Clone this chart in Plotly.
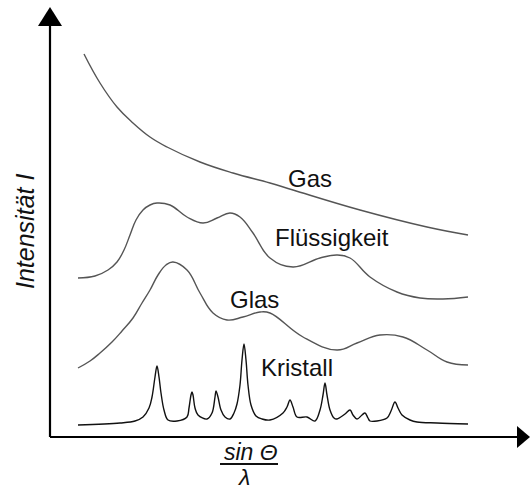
import plotly.graph_objects as go

# Scattering angle axis (sin Θ / λ, arbitrary units) and intensities (arbitrary units)
gas_x = [3.4, 5.0, 6.7, 8.3, 10.0, 11.7, 15.0, 18.3, 22.0, 24.3, 31.0, 37.7, 41.8]
gas_y = [38.3, 35.4, 33.0, 31.4, 30.0, 29.0, 27.5, 26.4, 25.4, 24.7, 22.7, 21.0, 20.2]

liquid_x = [2.8, 4.5, 5.8, 6.7, 7.4, 8.0, 8.6, 9.3, 10.0, 10.7, 12.0, 13.7, 15.3, 16.7,
            18.0, 19.0, 20.3, 22.0, 24.3, 27.0, 28.7, 30.0, 32.0, 34.7, 37.0, 39.3, 41.8]
liquid_y = [15.9, 16.1, 16.7, 17.5, 18.7, 20.2, 21.7, 22.7, 23.2, 23.4, 23.2, 22.0, 21.4, 21.9,
            22.4, 22.0, 20.4, 17.9, 17.0, 17.9, 18.2, 17.9, 16.0, 14.5, 13.9, 13.8, 14.0]

glass_x = [2.8, 4.0, 5.0, 6.2, 7.2, 8.3, 9.2, 10.0, 10.8, 11.6, 12.3, 13.7, 15.0, 16.3,
           17.7, 19.3, 21.0, 22.0, 25.3, 28.7, 30.7, 33.0, 35.3, 37.7, 39.7, 41.8]
glass_y = [6.9, 7.6, 8.4, 9.5, 10.6, 11.9, 13.4, 14.7, 16.2, 17.2, 17.5, 16.7, 14.4, 12.4,
           11.7, 12.0, 12.5, 12.4, 10.0, 8.7, 9.4, 10.2, 10.0, 8.7, 7.5, 7.2]

crystal_x = [2.8, 7.0, 8.5, 9.3, 9.9, 10.2, 10.5, 10.7, 10.9, 11.1, 11.4, 11.8, 12.7,
             13.7, 13.9, 14.1, 14.2, 14.3, 14.5, 14.8, 15.7, 16.2, 16.5, 16.6, 16.8,
             17.1, 17.5, 18.0, 18.4, 18.7, 19.0, 19.2, 19.4, 19.6, 19.8, 20.1, 20.6,
             21.2, 22.0, 23.3, 23.7, 24.0, 24.3, 24.7, 25.7, 26.5, 27.0, 27.3, 27.5,
             27.7, 28.0, 28.4, 28.7, 29.5, 30.0, 30.3, 30.7, 31.2, 31.5, 31.8, 32.0,
             32.7, 33.7, 34.1, 34.5, 34.8, 35.2, 36.0, 36.7, 38.7, 41.8]
crystal_y = [1.2, 1.4, 1.6, 2.0, 2.9, 4.0, 6.0, 7.1, 6.0, 4.4, 2.7, 1.7, 1.6,
             2.0, 2.9, 4.2, 4.5, 4.2, 2.9, 2.2, 1.8, 2.4, 4.0, 4.6, 4.0,
             2.7, 2.0, 1.8, 2.4, 3.3, 5.2, 7.7, 9.3, 7.7, 5.2, 3.2, 2.1,
             1.8, 1.7, 2.4, 3.0, 3.7, 3.0, 2.0, 2.0, 1.6, 2.7, 4.2, 5.4,
             4.2, 2.7, 1.9, 1.8, 2.3, 2.7, 2.2, 1.8, 2.2, 2.4, 1.9, 1.6,
             1.6, 1.9, 2.6, 3.5, 2.9, 2.2, 1.7, 1.5, 1.4, 1.3]

labels = ["Gas", "Flüssigkeit", "Glas", "Kristall"]
label_x = [26.0, 28.2, 20.4, 24.7]
label_y = [25.9, 20.0, 13.8, 7.0]

FONT = "Liberation Sans, Arial, sans-serif"
GREY = "#555555"
INK = "#111111"

fig = go.Figure()
series = [
    (gas_x, gas_y, GREY, 1.2),
    (liquid_x, liquid_y, GREY, 1.2),
    (glass_x, glass_y, GREY, 1.2),
    (crystal_x, crystal_y, INK, 1.0),
]
for (xs, ys, col, smooth), name in zip(series, labels):
    fig.add_trace(go.Scatter(
        x=xs, y=ys, mode="lines", name=name,
        line=dict(color=col, width=1.4, shape="spline", smoothing=smooth),
        hoverinfo="skip", showlegend=False,
    ))

for txt, lx, ly in zip(labels, label_x, label_y):
    fig.add_annotation(x=lx, y=ly, text=txt, showarrow=False,
                       font=dict(family=FONT, size=24, color=INK),
                       xanchor="center", yanchor="middle")

# Axes with arrow heads
axis_style = dict(color="black", width=2.2)
fig.add_shape(type="line", x0=0, y0=0, x1=0, y1=41.2, line=axis_style)
fig.add_shape(type="line", x0=0, y0=0, x1=46.8, y1=0, line=axis_style)
fig.add_shape(type="path", path="M -1.2 41.1 L 1.2 41.1 L 0 43.0 Z",
              fillcolor="black", line=dict(width=0))
fig.add_shape(type="path", path="M 46.7 1.1 L 46.7 -1.1 L 48.0 0 Z",
              fillcolor="black", line=dict(width=0))

# Axis titles
fig.add_annotation(x=-2.5, y=20.5, text="<i>Intensität I</i>", textangle=-90,
                   showarrow=False, font=dict(family=FONT, size=25, color=INK),
                   xanchor="center", yanchor="middle")
fig.add_annotation(x=20.1, y=-1.5, text="<i>sin Θ</i>", showarrow=False,
                   font=dict(family=FONT, size=23, color=INK),
                   xanchor="center", yanchor="middle")
fig.add_shape(type="line", x0=17.0, y0=-2.7, x1=22.8, y1=-2.7,
              line=dict(color=INK, width=1.8))
fig.add_annotation(x=19.3, y=-3.95, text="<i>λ</i>", showarrow=False,
                   font=dict(family=FONT, size=23, color=INK),
                   xanchor="center", yanchor="middle")

fig.update_layout(
    width=531, height=490,
    margin=dict(l=0, r=0, t=0, b=0),
    paper_bgcolor="white", plot_bgcolor="white",
    xaxis=dict(range=[-5.0, 48.1], visible=False, fixedrange=True),
    yaxis=dict(range=[-5.3, 43.7], visible=False, fixedrange=True),
)

fig.write_html("out.html")
